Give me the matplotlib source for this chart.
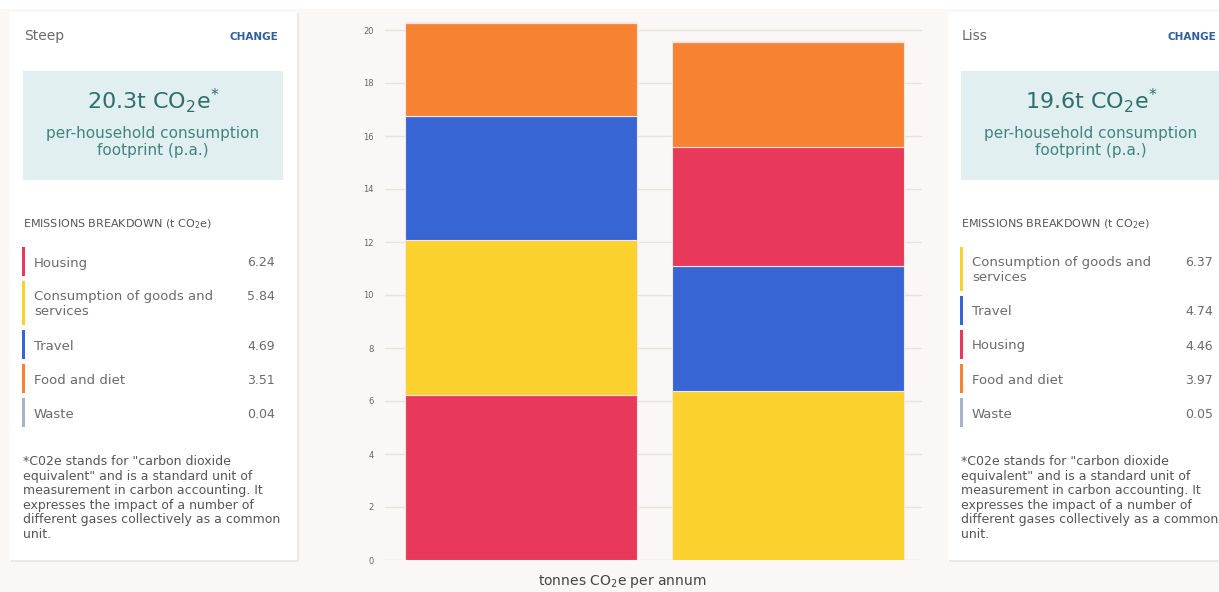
import matplotlib.pyplot as plt
from matplotlib.patches import Rectangle

plt.rcParams['font.family'] = ['DejaVu Sans']
plt.rcParams['mathtext.fontset'] = 'dejavusans'

# data ------------------------------------------------------------
places = ['Steep', 'Liss']
totals = ['20.3', '19.6']
categories = ['Housing', 'Consumption of goods and services', 'Travel', 'Food and diet', 'Waste']
steep_vals = [6.24, 5.84, 4.69, 3.51, 0.04]
liss_vals = [4.46, 6.37, 4.74, 3.97, 0.05]
cat_colors = ['#e8395a', '#fbd12d', '#3766d4', '#f78232', '#aab2c9']
yticks = [0, 2, 4, 6, 8, 10, 12, 14, 16, 18, 20]

W, H = 1219, 592
fig = plt.figure(figsize=(W / 100, H / 100), dpi=100, facecolor='#faf7f6')


def fx(x):
    return x / W


def fy(y):
    return 1 - y / H


def box(x0, y0, x1, y1, fc, ec='none', z=0):
    fig.patches.append(Rectangle((fx(x0), fy(y1)), fx(x1 - x0), (y1 - y0) / H,
                                 transform=fig.transFigure, facecolor=fc,
                                 edgecolor=ec, lw=0.8, zorder=z))


def txt(x, y, s, **kw):
    fig.text(fx(x), fy(y), s, **kw)


# white strip on top
box(0, 0, W, 9, '#ffffff')

# chart ------------------------------------------------------------
ax = fig.add_axes([fx(385), fy(560), fx(922 - 385), (560 - 16.75) / H])
ax.set_facecolor('none')
ax.set_xlim(-0.508, 1.5)
ax.set_ylim(0, 20.5)
ax.set_yticks(yticks)
ax.grid(axis='y', color='#e7e3e1', lw=1)
ax.set_axisbelow(True)
ax.tick_params(axis='y', length=0, pad=8, labelsize=6, labelcolor='#666666')
ax.set_xticks([])
for s in ax.spines.values():
    s.set_visible(False)


def stack(xpos, vals):
    order = sorted(range(len(vals)), key=lambda i: -vals[i])
    bottom = 0
    for i in order:
        ax.bar(xpos, vals[i], bottom=bottom, width=0.868, color=cat_colors[i],
               edgecolor='#f7e6e2', lw=0.8)
        bottom += vals[i]


stack(0, steep_vals)
stack(1, liss_vals)

txt(622, 582, 'tonnes CO$_2$e per annum', fontsize=10, color='#444444',
    ha='center', va='center')

# side panels --------------------------------------------------------
footnote = ('*C02e stands for "carbon dioxide\nequivalent" and is a standard unit of\n'
            'measurement in carbon accounting. It\nexpresses the impact of a number of\n'
            'different gases collectively as a common\nunit.')


def panel(x0, name, total, vals):
    # shadow + card
    box(x0 + 1, 13, x0 + 289, 562, '#ebe7e6', z=0)
    box(x0, 12, x0 + 287, 560, '#ffffff', z=1)
    txt(x0 + 14, 36, name, fontsize=10, color='#6a6a6a', va='center')
    txt(x0 + 268, 37, 'CHANGE', fontsize=7.5, color='#2f5f9f', fontweight='bold',
        ha='right', va='center')
    box(x0 + 13, 71, x0 + 273, 180, '#e2eff0', z=2)
    cx = x0 + 143
    txt(cx, 101, total + 't CO$_2$e$^{*}$', fontsize=16, color='#2d6f6c',
        ha='center', va='center', zorder=3)
    txt(cx, 142, 'per-household consumption\nfootprint (p.a.)', fontsize=11,
        color='#3f8480', ha='center', va='center', linespacing=1.2, zorder=3)
    txt(x0 + 13, 224, 'EMISSIONS BREAKDOWN (t CO$_2$e)', fontsize=8,
        color='#555555', va='center')

    order = sorted(range(len(vals)), key=lambda i: -vals[i])
    y = 247
    for i in order:
        name_i = categories[i]
        tall = len(name_i) > 20
        h = 46 if tall else 31
        box(x0 + 12, y, x0 + 15, y + h - 2, cat_colors[i], z=3)
        label = 'Consumption of goods and\nservices' if tall else name_i
        txt(x0 + 24, y + (23 if tall else 16), label, fontsize=9.5, color='#6a6a6a',
            va='center', linespacing=1.2)
        txt(x0 + 265, y + 16, '%.2f' % vals[i], fontsize=9, color='#6a6a6a',
            ha='right', va='center')
        y += h + 3

    txt(x0 + 13, 498, footnote, fontsize=9, color='#555555', va='center',
        linespacing=1.15)


panel(10, places[0], totals[0], steep_vals)
panel(948, places[1], totals[1], liss_vals)

fig.savefig('out.png', dpi=100, facecolor=fig.get_facecolor())
